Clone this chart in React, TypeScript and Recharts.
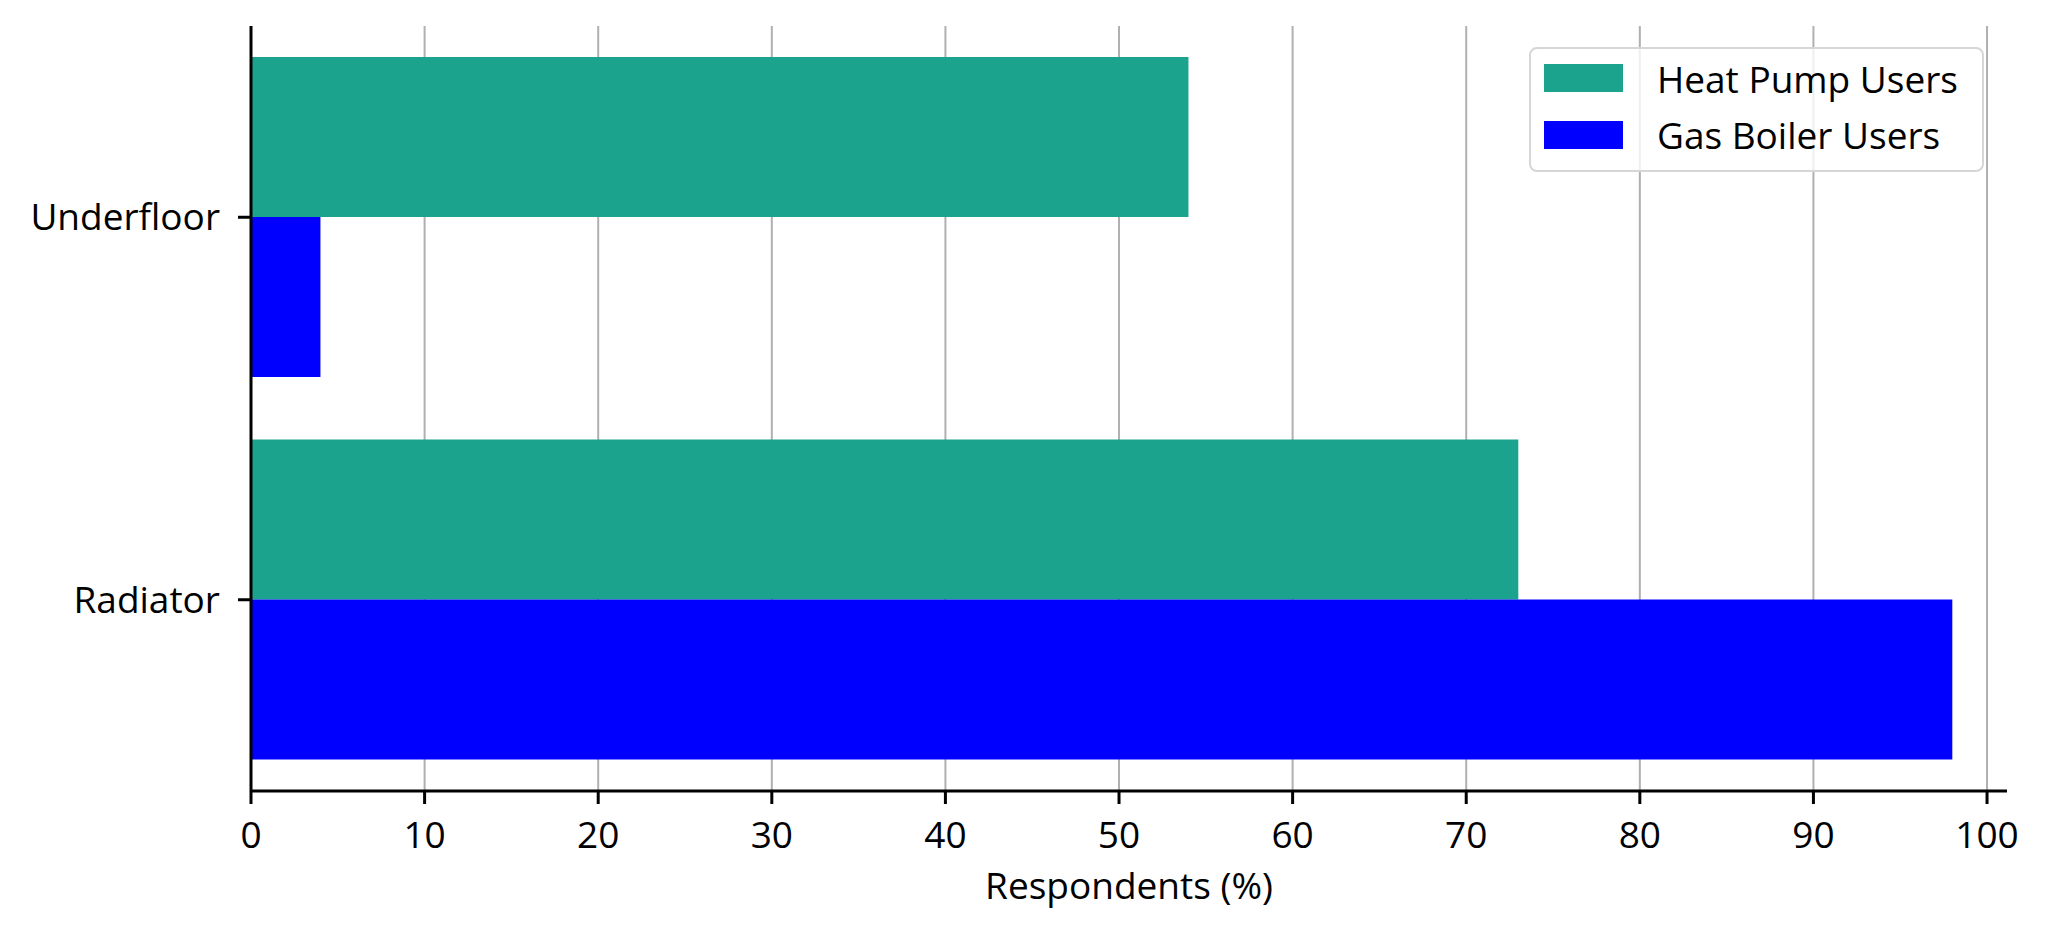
// Horizontal grouped bars: heating emitter type by respondent group.
import { BarChart, Bar, XAxis, YAxis, CartesianGrid, Legend } from "recharts";

const categories = ["Underfloor", "Radiator"];
const heatPumpUsers = [54, 73];
const gasBoilerUsers = [4, 98];
const xTicks = [0, 10, 20, 30, 40, 50, 60, 70, 80, 90, 100];
const seriesNames = ["Heat Pump Users", "Gas Boiler Users"];

const HEAT_PUMP = "#1ba38d";
const GAS_BOILER = "#0000ff";
const FONT = "'Open Sans', sans-serif";
const FONT_SIZE = 37;

const data = categories.map((name, i) => ({
  name,
  heatPump: heatPumpUsers[i],
  gasBoiler: gasBoilerUsers[i],
}));

function LegendBox({ payload }: any) {
  // keep the series order, not the alphabetical one
  const items = [...(payload || [])].sort(
    (a: any, b: any) => seriesNames.indexOf(a.value) - seriesNames.indexOf(b.value)
  );
  return (
    <div
      style={{
        boxSizing: "border-box",
        width: 455,
        height: 125,
        position: "relative",
        border: "2.5px solid #d6d6d6",
        borderRadius: 8,
        background: "rgba(255,255,255,0.8)",
        fontFamily: FONT,
      }}
    >
      {items.map((entry: any, i: number) => (
        <div key={entry.value}>
          <div
            style={{
              position: "absolute",
              left: 13,
              top: 14.5 + i * 57,
              width: 79,
              height: 28,
              background: entry.color,
            }}
          />
          <div
            style={{
              position: "absolute",
              left: 126,
              top: 11 + i * 56,
              fontSize: FONT_SIZE,
              lineHeight: 1,
              color: "#000",
              whiteSpace: "nowrap",
            }}
          >
            {entry.value}
          </div>
        </div>
      ))}
    </div>
  );
}

export default function App() {
  const axisStroke = { stroke: "#000", strokeWidth: 3 };
  const tickStyle = { fontSize: FONT_SIZE, fill: "#000", fontFamily: FONT };

  return (
    <div
      style={{
        position: "absolute",
        left: 0,
        top: 0,
        width: 2048,
        height: 936,
        background: "#fff",
        fontFamily: FONT,
      }}
    >
      <BarChart
        width={2048}
        height={936}
        data={data}
        layout="vertical"
        margin={{ top: 26, right: 41, bottom: 35, left: 0 }}
        barCategoryGap={31}
        barGap={0}
      >
        <CartesianGrid horizontal={false} syncWithTicks stroke="#b0b0b0" strokeWidth={2} />
        <XAxis
          type="number"
          domain={[0, 101.15]}
          ticks={xTicks}
          interval={0}
          allowDataOverflow
          height={110}
          tickSize={13}
          tickMargin={18}
          axisLine={axisStroke}
          tickLine={axisStroke}
          tick={tickStyle}
          label={{
            value: "Respondents (%)",
            position: "insideBottom",
            offset: 2,
            fontSize: FONT_SIZE,
            fill: "#000",
            fontFamily: FONT,
          }}
        />
        <YAxis
          type="category"
          dataKey="name"
          width={251}
          tickSize={13}
          tickMargin={18}
          axisLine={axisStroke}
          tickLine={axisStroke}
          tick={tickStyle}
        />
        <Legend
          layout="vertical"
          align="center"
          verticalAlign="middle"
          wrapperStyle={{ left: 1529, top: 47, width: 455, height: 125 }}
          content={(props: any) => <LegendBox {...props} />}
        />
        <Bar
          dataKey="heatPump"
          name={seriesNames[0]}
          fill={HEAT_PUMP}
          isAnimationActive={false}
        />
        <Bar
          dataKey="gasBoiler"
          name={seriesNames[1]}
          fill={GAS_BOILER}
          isAnimationActive={false}
        />
      </BarChart>
    </div>
  );
}
